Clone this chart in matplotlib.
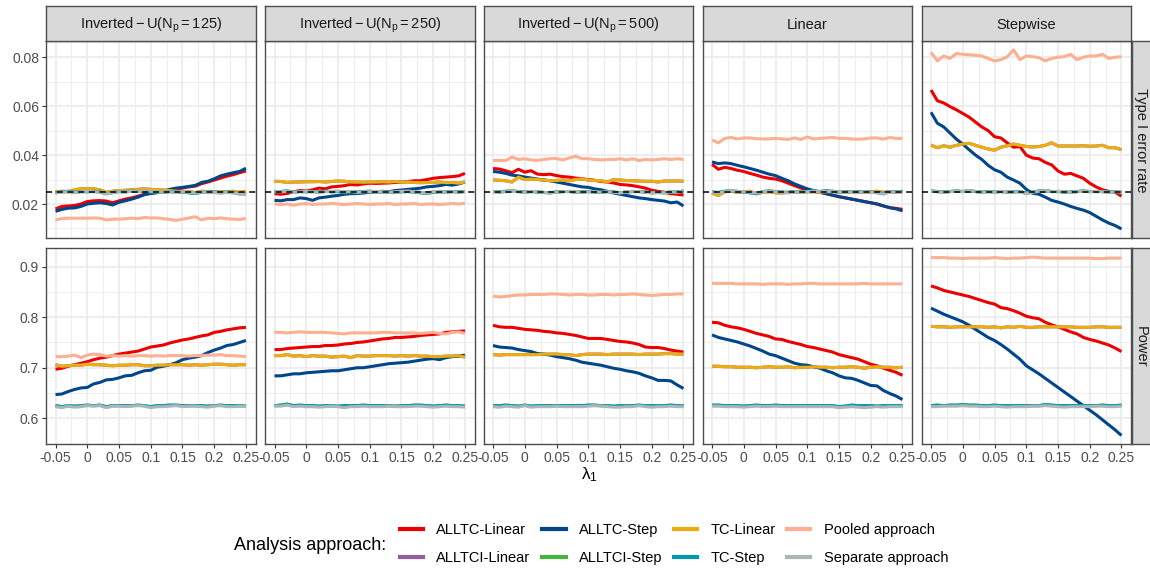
import matplotlib
matplotlib.use('Agg')
import matplotlib.pyplot as plt
from matplotlib.lines import Line2D

plt.rcParams['font.family'] = ['Liberation Sans', 'DejaVu Sans']
plt.rcParams['mathtext.fontset'] = 'custom'
plt.rcParams['mathtext.rm'] = 'Liberation Sans'
plt.rcParams['mathtext.it'] = 'Liberation Sans:italic'

lambda1 = [-0.05, -0.04, -0.03, -0.02, -0.01, 0.0, 0.01, 0.02, 0.03, 0.04,
           0.05, 0.06, 0.07, 0.08, 0.09, 0.10, 0.11, 0.12, 0.13, 0.14,
           0.15, 0.16, 0.17, 0.18, 0.19, 0.20, 0.21, 0.22, 0.23, 0.24, 0.25]

scenarios = ['inv125', 'inv250', 'inv500', 'lin', 'step']
strip_labels = [r'$\mathregular{Inverted-U(N_p=125)}$',
                r'$\mathregular{Inverted-U(N_p=250)}$',
                r'$\mathregular{Inverted-U(N_p=500)}$',
                'Linear', 'Stepwise']
row_labels = ['Type I error rate', 'Power']

approaches = ['ALLTC-Linear', 'ALLTCI-Linear', 'ALLTC-Step', 'ALLTCI-Step',
              'TC-Linear', 'TC-Step', 'Pooled approach', 'Separate approach']
colors = ['#ED0000', '#925E9F', '#00468B', '#42B540',
          '#EEAD0E', '#0099B4', '#FDAF91', '#ADB6B6']

# ---- Type I error rate ----
t1_inv125_alltc_lin = [0.0180, 0.0190, 0.0192, 0.0194, 0.0200, 0.0210, 0.0213, 0.0214, 0.0212, 0.0205,
                       0.0213, 0.0220, 0.0225, 0.0232, 0.0240, 0.0245, 0.0248, 0.0252, 0.0258, 0.0262,
                       0.0265, 0.0270, 0.0273, 0.0283, 0.0290, 0.0298, 0.0306, 0.0314, 0.0320, 0.0328, 0.0335]
t1_inv125_alltc_step = [0.0170, 0.0178, 0.0183, 0.0184, 0.0190, 0.0200, 0.0203, 0.0205, 0.0202, 0.0196,
                        0.0207, 0.0213, 0.0220, 0.0228, 0.0238, 0.0243, 0.0246, 0.0252, 0.0260, 0.0265,
                        0.0268, 0.0272, 0.0276, 0.0288, 0.0293, 0.0303, 0.0315, 0.0322, 0.0328, 0.0333, 0.0346]
t1_inv125_tc_lin = [0.0250, 0.0252, 0.0250, 0.0258, 0.0262, 0.0263, 0.0262, 0.0258, 0.0248, 0.0252,
                    0.0255, 0.0256, 0.0258, 0.0260, 0.0262, 0.0260, 0.0258, 0.0257, 0.0255, 0.0252,
                    0.0250, 0.0250, 0.0247, 0.0252, 0.0250, 0.0248, 0.0250, 0.0250, 0.0252, 0.0248, 0.0252]
t1_inv125_tc_step = [0.0246, 0.0250, 0.0252, 0.0248, 0.0251, 0.0250, 0.0252, 0.0249, 0.0243, 0.0247,
                     0.0251, 0.0250, 0.0253, 0.0251, 0.0253, 0.0250, 0.0249, 0.0247, 0.0251, 0.0248,
                     0.0249, 0.0246, 0.0243, 0.0249, 0.0248, 0.0250, 0.0246, 0.0249, 0.0247, 0.0242, 0.0240]
t1_inv125_pooled = [0.0135, 0.0140, 0.0142, 0.0142, 0.0142, 0.0142, 0.0143, 0.0142, 0.0135, 0.0138,
                    0.0138, 0.0140, 0.0142, 0.0140, 0.0145, 0.0143, 0.0143, 0.0140, 0.0137, 0.0133,
                    0.0138, 0.0143, 0.0148, 0.0135, 0.0142, 0.0140, 0.0143, 0.0140, 0.0138, 0.0137, 0.0140]
t1_inv125_sep = [0.0245, 0.0248, 0.0250, 0.0246, 0.0250, 0.0252, 0.0250, 0.0247, 0.0240, 0.0246,
                 0.0250, 0.0249, 0.0252, 0.0250, 0.0255, 0.0252, 0.0250, 0.0248, 0.0250, 0.0247,
                 0.0250, 0.0248, 0.0245, 0.0250, 0.0246, 0.0248, 0.0244, 0.0248, 0.0245, 0.0240, 0.0238]

t1_inv250_alltc_lin = [0.0242, 0.0240, 0.0243, 0.0250, 0.0255, 0.0253, 0.0258, 0.0265, 0.0262, 0.0270,
                       0.0272, 0.0275, 0.0280, 0.0278, 0.0282, 0.0285, 0.0284, 0.0285, 0.0286, 0.0288,
                       0.0290, 0.0292, 0.0295, 0.0295, 0.0300, 0.0305, 0.0308, 0.0310, 0.0312, 0.0315, 0.0325]
t1_inv250_alltc_step = [0.0215, 0.0213, 0.0218, 0.0218, 0.0225, 0.0222, 0.0215, 0.0225, 0.0228, 0.0232,
                        0.0235, 0.0240, 0.0242, 0.0243, 0.0245, 0.0248, 0.0250, 0.0252, 0.0250, 0.0255,
                        0.0257, 0.0260, 0.0262, 0.0265, 0.0270, 0.0272, 0.0275, 0.0280, 0.0277, 0.0282, 0.0290]
t1_inv250_tc_lin = [0.0293, 0.0292, 0.0288, 0.0290, 0.0290, 0.0291, 0.0291, 0.0292, 0.0290, 0.0292,
                    0.0294, 0.0293, 0.0290, 0.0290, 0.0289, 0.0290, 0.0290, 0.0291, 0.0290, 0.0292,
                    0.0290, 0.0290, 0.0288, 0.0287, 0.0288, 0.0288, 0.0290, 0.0287, 0.0288, 0.0285, 0.0290]
t1_inv250_tc_step = [0.0250, 0.0251, 0.0253, 0.0249, 0.0251, 0.0250, 0.0251, 0.0249, 0.0252, 0.0250,
                     0.0251, 0.0249, 0.0250, 0.0249, 0.0251, 0.0252, 0.0250, 0.0249, 0.0247, 0.0249,
                     0.0250, 0.0251, 0.0249, 0.0246, 0.0244, 0.0248, 0.0250, 0.0249, 0.0251, 0.0249, 0.0251]
t1_inv250_pooled = [0.0200, 0.0198, 0.0200, 0.0195, 0.0200, 0.0202, 0.0198, 0.0200, 0.0200, 0.0202,
                    0.0200, 0.0198, 0.0200, 0.0202, 0.0200, 0.0198, 0.0200, 0.0200, 0.0202, 0.0198,
                    0.0200, 0.0200, 0.0202, 0.0198, 0.0200, 0.0200, 0.0198, 0.0200, 0.0202, 0.0200, 0.0203]
t1_inv250_sep = [0.0252, 0.0250, 0.0252, 0.0248, 0.0250, 0.0252, 0.0250, 0.0248, 0.0250, 0.0252,
                 0.0253, 0.0250, 0.0252, 0.0248, 0.0250, 0.0250, 0.0252, 0.0250, 0.0248, 0.0250,
                 0.0252, 0.0253, 0.0250, 0.0248, 0.0245, 0.0250, 0.0252, 0.0248, 0.0250, 0.0248, 0.0250]

t1_inv500_alltc_lin = [0.0345, 0.0343, 0.0336, 0.0328, 0.0342, 0.0330, 0.0336, 0.0322, 0.0320, 0.0322,
                       0.0316, 0.0312, 0.0310, 0.0306, 0.0303, 0.0300, 0.0297, 0.0292, 0.0290, 0.0286,
                       0.0280, 0.0278, 0.0275, 0.0270, 0.0265, 0.0256, 0.0252, 0.0248, 0.0242, 0.0240, 0.0237]
t1_inv500_alltc_step = [0.0333, 0.0330, 0.0325, 0.0318, 0.0315, 0.0310, 0.0306, 0.0302, 0.0298, 0.0295,
                        0.0290, 0.0285, 0.0280, 0.0275, 0.0270, 0.0268, 0.0262, 0.0258, 0.0252, 0.0245,
                        0.0240, 0.0235, 0.0230, 0.0225, 0.0222, 0.0218, 0.0215, 0.0212, 0.0205, 0.0208, 0.0192]
t1_inv500_tc_lin = [0.0298, 0.0297, 0.0295, 0.0290, 0.0310, 0.0300, 0.0302, 0.0300, 0.0298, 0.0295,
                    0.0296, 0.0298, 0.0295, 0.0300, 0.0302, 0.0298, 0.0296, 0.0295, 0.0290, 0.0300,
                    0.0298, 0.0296, 0.0295, 0.0294, 0.0293, 0.0293, 0.0290, 0.0294, 0.0294, 0.0294, 0.0293]
t1_inv500_tc_step = [0.0251, 0.0249, 0.0252, 0.0253, 0.0251, 0.0249, 0.0251, 0.0249, 0.0247, 0.0246,
                     0.0249, 0.0251, 0.0251, 0.0249, 0.0249, 0.0251, 0.0249, 0.0247, 0.0251, 0.0249,
                     0.0246, 0.0249, 0.0251, 0.0251, 0.0249, 0.0246, 0.0247, 0.0246, 0.0249, 0.0249, 0.0253]
t1_inv500_pooled = [0.0378, 0.0378, 0.0378, 0.0392, 0.0382, 0.0385, 0.0380, 0.0378, 0.0382, 0.0385,
                    0.0386, 0.0380, 0.0388, 0.0395, 0.0385, 0.0385, 0.0382, 0.0380, 0.0382, 0.0382,
                    0.0385, 0.0380, 0.0385, 0.0378, 0.0382, 0.0380, 0.0382, 0.0385, 0.0382, 0.0385, 0.0382]
t1_inv500_sep = [0.0250, 0.0248, 0.0250, 0.0252, 0.0250, 0.0248, 0.0252, 0.0250, 0.0248, 0.0245,
                 0.0248, 0.0250, 0.0252, 0.0250, 0.0248, 0.0250, 0.0250, 0.0248, 0.0250, 0.0248,
                 0.0245, 0.0250, 0.0252, 0.0250, 0.0248, 0.0245, 0.0248, 0.0245, 0.0250, 0.0248, 0.0252]

t1_lin_alltc_lin = [0.0362, 0.0342, 0.0350, 0.0345, 0.0338, 0.0333, 0.0325, 0.0318, 0.0310, 0.0305,
                    0.0302, 0.0295, 0.0285, 0.0275, 0.0265, 0.0258, 0.0252, 0.0248, 0.0242, 0.0236,
                    0.0230, 0.0225, 0.0220, 0.0215, 0.0210, 0.0205, 0.0200, 0.0192, 0.0185, 0.0182, 0.0178]
t1_lin_alltc_step = [0.0372, 0.0365, 0.0368, 0.0365, 0.0358, 0.0352, 0.0345, 0.0338, 0.0330, 0.0322,
                     0.0316, 0.0305, 0.0295, 0.0282, 0.0272, 0.0262, 0.0255, 0.0248, 0.0242, 0.0236,
                     0.0230, 0.0225, 0.0220, 0.0215, 0.0210, 0.0205, 0.0200, 0.0192, 0.0185, 0.0180, 0.0172]
t1_lin_tc_lin = [0.0245, 0.0235, 0.0250, 0.0252, 0.0248, 0.0250, 0.0252, 0.0242, 0.0248, 0.0250,
                 0.0246, 0.0245, 0.0248, 0.0250, 0.0248, 0.0250, 0.0250, 0.0248, 0.0250, 0.0252,
                 0.0250, 0.0248, 0.0250, 0.0250, 0.0248, 0.0250, 0.0252, 0.0248, 0.0250, 0.0250, 0.0250]
t1_lin_tc_step = [0.0249, 0.0247, 0.0252, 0.0254, 0.0251, 0.0249, 0.0246, 0.0242, 0.0251, 0.0253,
                  0.0251, 0.0249, 0.0247, 0.0251, 0.0249, 0.0251, 0.0253, 0.0251, 0.0254, 0.0251,
                  0.0249, 0.0249, 0.0251, 0.0249, 0.0251, 0.0249, 0.0247, 0.0243, 0.0251, 0.0249, 0.0252]
t1_lin_pooled = [0.0462, 0.0450, 0.0468, 0.0472, 0.0466, 0.0470, 0.0470, 0.0467, 0.0466, 0.0466,
                 0.0468, 0.0466, 0.0464, 0.0470, 0.0464, 0.0474, 0.0466, 0.0468, 0.0470, 0.0472,
                 0.0468, 0.0468, 0.0466, 0.0465, 0.0466, 0.0470, 0.0470, 0.0465, 0.0472, 0.0468, 0.0468]
t1_lin_sep = [0.0248, 0.0245, 0.0250, 0.0255, 0.0252, 0.0250, 0.0248, 0.0245, 0.0250, 0.0252,
              0.0250, 0.0248, 0.0245, 0.0250, 0.0248, 0.0250, 0.0252, 0.0250, 0.0252, 0.0250,
              0.0250, 0.0248, 0.0250, 0.0248, 0.0250, 0.0248, 0.0245, 0.0240, 0.0250, 0.0248, 0.0250]

t1_step_alltc_lin = [0.0666, 0.0622, 0.0613, 0.0598, 0.0585, 0.0570, 0.0555, 0.0535, 0.0515, 0.0500,
                     0.0475, 0.0470, 0.0450, 0.0432, 0.0435, 0.0400, 0.0388, 0.0385, 0.0370, 0.0360,
                     0.0335, 0.0322, 0.0325, 0.0315, 0.0305, 0.0285, 0.0270, 0.0258, 0.0252, 0.0248, 0.0232]
t1_step_alltc_step = [0.0575, 0.0530, 0.0515, 0.0490, 0.0465, 0.0445, 0.0422, 0.0400, 0.0382, 0.0358,
                      0.0340, 0.0330, 0.0310, 0.0298, 0.0285, 0.0260, 0.0244, 0.0240, 0.0228, 0.0215,
                      0.0208, 0.0200, 0.0190, 0.0182, 0.0175, 0.0165, 0.0150, 0.0135, 0.0122, 0.0112, 0.0098]
t1_step_tc_lin = [0.0441, 0.0430, 0.0438, 0.0432, 0.0440, 0.0445, 0.0448, 0.0440, 0.0432, 0.0425,
                  0.0420, 0.0432, 0.0438, 0.0445, 0.0440, 0.0435, 0.0433, 0.0435, 0.0440, 0.0450,
                  0.0437, 0.0437, 0.0437, 0.0437, 0.0438, 0.0436, 0.0437, 0.0440, 0.0430, 0.0430, 0.0422]
t1_step_tc_step = [0.0253, 0.0251, 0.0249, 0.0251, 0.0253, 0.0251, 0.0254, 0.0251, 0.0248, 0.0251,
                   0.0249, 0.0251, 0.0249, 0.0249, 0.0251, 0.0244, 0.0249, 0.0253, 0.0254, 0.0251,
                   0.0251, 0.0249, 0.0249, 0.0251, 0.0253, 0.0251, 0.0251, 0.0251, 0.0249, 0.0251, 0.0249]
t1_step_pooled = [0.0820, 0.0785, 0.0805, 0.0795, 0.0815, 0.0812, 0.0810, 0.0808, 0.0805, 0.0795,
                  0.0785, 0.0790, 0.0802, 0.0830, 0.0790, 0.0805, 0.0802, 0.0798, 0.0785, 0.0795,
                  0.0800, 0.0802, 0.0812, 0.0790, 0.0800, 0.0805, 0.0805, 0.0812, 0.0795, 0.0800, 0.0802]
t1_step_sep = [0.0252, 0.0250, 0.0248, 0.0250, 0.0252, 0.0250, 0.0255, 0.0252, 0.0246, 0.0250,
               0.0248, 0.0252, 0.0250, 0.0248, 0.0250, 0.0242, 0.0248, 0.0252, 0.0255, 0.0250,
               0.0252, 0.0250, 0.0248, 0.0250, 0.0252, 0.0250, 0.0252, 0.0250, 0.0248, 0.0250, 0.0250]

# ---- Power ----
pw_inv125_alltc_lin = [0.697, 0.699, 0.703, 0.706, 0.709, 0.712, 0.716, 0.719, 0.721, 0.724,
                       0.727, 0.729, 0.731, 0.733, 0.737, 0.741, 0.743, 0.745, 0.749, 0.752,
                       0.755, 0.757, 0.760, 0.763, 0.765, 0.770, 0.772, 0.775, 0.777, 0.779, 0.780]
pw_inv125_alltc_step = [0.647, 0.648, 0.653, 0.657, 0.660, 0.661, 0.668, 0.671, 0.676, 0.677,
                        0.680, 0.684, 0.685, 0.690, 0.694, 0.695, 0.701, 0.703, 0.706, 0.710,
                        0.716, 0.719, 0.721, 0.724, 0.730, 0.735, 0.739, 0.744, 0.746, 0.750, 0.754]
pw_inv125_tc_lin = [0.706, 0.703, 0.704, 0.705, 0.705, 0.707, 0.706, 0.706, 0.705, 0.704,
                    0.705, 0.705, 0.706, 0.706, 0.704, 0.704, 0.705, 0.705, 0.706, 0.706,
                    0.706, 0.705, 0.706, 0.705, 0.706, 0.707, 0.707, 0.706, 0.705, 0.706, 0.706]
pw_inv125_tc_step = [0.625, 0.623, 0.625, 0.624, 0.625, 0.626, 0.625, 0.626, 0.623, 0.625,
                     0.625, 0.625, 0.625, 0.626, 0.625, 0.623, 0.625, 0.625, 0.626, 0.626,
                     0.625, 0.625, 0.625, 0.625, 0.624, 0.625, 0.626, 0.625, 0.625, 0.625, 0.624]
pw_inv125_pooled = [0.722, 0.722, 0.723, 0.725, 0.720, 0.725, 0.727, 0.726, 0.723, 0.724,
                    0.723, 0.724, 0.723, 0.724, 0.724, 0.723, 0.724, 0.723, 0.724, 0.724,
                    0.724, 0.723, 0.724, 0.724, 0.725, 0.725, 0.726, 0.724, 0.724, 0.723, 0.722]
pw_inv125_sep = [0.623, 0.621, 0.624, 0.622, 0.623, 0.625, 0.624, 0.625, 0.621, 0.624,
                 0.624, 0.623, 0.624, 0.625, 0.624, 0.621, 0.623, 0.623, 0.624, 0.625,
                 0.623, 0.624, 0.624, 0.623, 0.622, 0.624, 0.625, 0.623, 0.623, 0.624, 0.623]

pw_inv250_alltc_lin = [0.736, 0.736, 0.738, 0.739, 0.740, 0.741, 0.742, 0.742, 0.744, 0.744,
                       0.745, 0.747, 0.748, 0.750, 0.751, 0.753, 0.755, 0.757, 0.758, 0.760,
                       0.760, 0.761, 0.762, 0.764, 0.765, 0.766, 0.767, 0.770, 0.771, 0.772, 0.773]
pw_inv250_alltc_step = [0.684, 0.684, 0.686, 0.688, 0.688, 0.690, 0.691, 0.692, 0.693, 0.694,
                        0.694, 0.696, 0.698, 0.700, 0.700, 0.702, 0.704, 0.706, 0.708, 0.709,
                        0.710, 0.711, 0.713, 0.715, 0.717, 0.718, 0.716, 0.720, 0.722, 0.723, 0.725]
pw_inv250_tc_lin = [0.724, 0.724, 0.726, 0.723, 0.724, 0.722, 0.724, 0.723, 0.723, 0.721,
                    0.722, 0.723, 0.720, 0.724, 0.723, 0.723, 0.724, 0.724, 0.724, 0.723,
                    0.724, 0.723, 0.724, 0.723, 0.723, 0.722, 0.722, 0.723, 0.723, 0.724, 0.721]
pw_inv250_tc_step = [0.625, 0.626, 0.628, 0.625, 0.626, 0.625, 0.625, 0.624, 0.625, 0.625,
                     0.624, 0.625, 0.625, 0.625, 0.626, 0.625, 0.625, 0.625, 0.625, 0.624,
                     0.625, 0.625, 0.626, 0.626, 0.625, 0.624, 0.625, 0.626, 0.625, 0.625, 0.624]
pw_inv250_pooled = [0.770, 0.770, 0.769, 0.770, 0.771, 0.770, 0.770, 0.770, 0.770, 0.769,
                    0.768, 0.767, 0.769, 0.769, 0.769, 0.769, 0.769, 0.770, 0.770, 0.769,
                    0.769, 0.769, 0.769, 0.768, 0.769, 0.770, 0.768, 0.767, 0.770, 0.771, 0.768]
pw_inv250_sep = [0.624, 0.624, 0.626, 0.623, 0.624, 0.623, 0.623, 0.622, 0.623, 0.624,
                 0.623, 0.621, 0.623, 0.623, 0.624, 0.623, 0.623, 0.623, 0.624, 0.623,
                 0.623, 0.623, 0.624, 0.624, 0.623, 0.622, 0.623, 0.624, 0.623, 0.623, 0.622]

pw_inv500_alltc_lin = [0.784, 0.781, 0.780, 0.780, 0.778, 0.776, 0.775, 0.774, 0.772, 0.771,
                       0.769, 0.768, 0.766, 0.764, 0.761, 0.758, 0.758, 0.758, 0.756, 0.754,
                       0.752, 0.751, 0.749, 0.746, 0.741, 0.740, 0.740, 0.738, 0.735, 0.733, 0.731]
pw_inv500_alltc_step = [0.744, 0.741, 0.740, 0.739, 0.736, 0.734, 0.732, 0.728, 0.727, 0.725,
                        0.722, 0.720, 0.718, 0.715, 0.711, 0.709, 0.707, 0.705, 0.702, 0.699,
                        0.697, 0.694, 0.692, 0.689, 0.684, 0.680, 0.675, 0.675, 0.674, 0.666, 0.659]
pw_inv500_tc_lin = [0.726, 0.725, 0.726, 0.726, 0.726, 0.726, 0.726, 0.726, 0.727, 0.727,
                    0.727, 0.726, 0.726, 0.724, 0.726, 0.727, 0.727, 0.727, 0.726, 0.727,
                    0.727, 0.727, 0.727, 0.726, 0.727, 0.727, 0.727, 0.728, 0.728, 0.727, 0.727]
pw_inv500_tc_step = [0.625, 0.625, 0.626, 0.625, 0.624, 0.626, 0.624, 0.625, 0.625, 0.625,
                     0.625, 0.625, 0.625, 0.625, 0.625, 0.626, 0.626, 0.625, 0.625, 0.624,
                     0.625, 0.625, 0.625, 0.626, 0.625, 0.625, 0.625, 0.625, 0.626, 0.625, 0.625]
pw_inv500_pooled = [0.842, 0.840, 0.841, 0.843, 0.844, 0.844, 0.845, 0.845, 0.845, 0.846,
                    0.846, 0.845, 0.844, 0.845, 0.845, 0.844, 0.844, 0.845, 0.845, 0.844,
                    0.845, 0.845, 0.846, 0.845, 0.844, 0.843, 0.844, 0.845, 0.845, 0.846, 0.846]
pw_inv500_sep = [0.623, 0.622, 0.624, 0.623, 0.622, 0.625, 0.622, 0.623, 0.623, 0.623,
                 0.624, 0.623, 0.623, 0.623, 0.623, 0.624, 0.625, 0.624, 0.623, 0.622,
                 0.622, 0.623, 0.623, 0.625, 0.623, 0.622, 0.623, 0.623, 0.624, 0.623, 0.623]

pw_lin_alltc_lin = [0.790, 0.789, 0.784, 0.781, 0.779, 0.776, 0.772, 0.768, 0.765, 0.762,
                    0.757, 0.756, 0.752, 0.749, 0.746, 0.742, 0.740, 0.737, 0.734, 0.731,
                    0.726, 0.723, 0.720, 0.717, 0.712, 0.707, 0.704, 0.699, 0.695, 0.691, 0.685]
pw_lin_alltc_step = [0.765, 0.760, 0.757, 0.754, 0.751, 0.747, 0.743, 0.738, 0.733, 0.727,
                     0.724, 0.719, 0.714, 0.709, 0.706, 0.705, 0.702, 0.699, 0.694, 0.690,
                     0.684, 0.680, 0.679, 0.675, 0.670, 0.665, 0.664, 0.655, 0.649, 0.644, 0.637]
pw_lin_tc_lin = [0.703, 0.703, 0.702, 0.702, 0.701, 0.701, 0.701, 0.700, 0.701, 0.702,
                 0.701, 0.701, 0.702, 0.700, 0.701, 0.701, 0.702, 0.701, 0.701, 0.700,
                 0.701, 0.701, 0.702, 0.701, 0.699, 0.701, 0.702, 0.701, 0.701, 0.700, 0.701]
pw_lin_tc_step = [0.626, 0.626, 0.625, 0.625, 0.625, 0.624, 0.625, 0.626, 0.625, 0.625,
                  0.626, 0.625, 0.625, 0.625, 0.625, 0.625, 0.625, 0.625, 0.625, 0.625,
                  0.623, 0.624, 0.626, 0.625, 0.625, 0.625, 0.624, 0.625, 0.625, 0.625, 0.625]
pw_lin_pooled = [0.867, 0.867, 0.867, 0.867, 0.866, 0.866, 0.866, 0.866, 0.865, 0.866,
                 0.866, 0.866, 0.865, 0.866, 0.866, 0.867, 0.867, 0.866, 0.866, 0.866,
                 0.866, 0.866, 0.866, 0.866, 0.867, 0.866, 0.866, 0.866, 0.866, 0.866, 0.866]
pw_lin_sep = [0.624, 0.624, 0.623, 0.623, 0.623, 0.622, 0.623, 0.624, 0.623, 0.623,
              0.624, 0.623, 0.623, 0.623, 0.623, 0.623, 0.623, 0.623, 0.623, 0.623,
              0.621, 0.622, 0.623, 0.622, 0.621, 0.622, 0.623, 0.622, 0.623, 0.623, 0.623]

pw_step_alltc_lin = [0.862, 0.858, 0.853, 0.850, 0.847, 0.844, 0.841, 0.837, 0.833, 0.829,
                     0.826, 0.819, 0.817, 0.813, 0.808, 0.802, 0.799, 0.797, 0.790, 0.785,
                     0.781, 0.776, 0.771, 0.767, 0.760, 0.756, 0.753, 0.749, 0.745, 0.739, 0.732]
pw_step_alltc_step = [0.818, 0.812, 0.806, 0.801, 0.796, 0.791, 0.784, 0.776, 0.768, 0.760,
                      0.754, 0.746, 0.737, 0.727, 0.717, 0.704, 0.696, 0.688, 0.679, 0.670,
                      0.661, 0.652, 0.643, 0.634, 0.625, 0.616, 0.607, 0.597, 0.587, 0.577, 0.566]
pw_step_tc_lin = [0.782, 0.781, 0.781, 0.780, 0.781, 0.781, 0.781, 0.781, 0.781, 0.780,
                  0.781, 0.779, 0.781, 0.780, 0.782, 0.780, 0.780, 0.781, 0.781, 0.781,
                  0.781, 0.781, 0.781, 0.780, 0.780, 0.780, 0.781, 0.781, 0.780, 0.780, 0.780]
pw_step_tc_step = [0.625, 0.626, 0.625, 0.626, 0.626, 0.627, 0.626, 0.626, 0.625, 0.625,
                   0.626, 0.625, 0.625, 0.625, 0.625, 0.625, 0.625, 0.625, 0.627, 0.626,
                   0.625, 0.625, 0.625, 0.625, 0.625, 0.625, 0.625, 0.626, 0.625, 0.625, 0.626]
pw_step_pooled = [0.918, 0.918, 0.918, 0.917, 0.917, 0.916, 0.917, 0.917, 0.917, 0.917,
                  0.918, 0.917, 0.916, 0.917, 0.917, 0.918, 0.919, 0.918, 0.917, 0.917,
                  0.917, 0.917, 0.917, 0.917, 0.917, 0.917, 0.916, 0.916, 0.917, 0.917, 0.917]
pw_step_sep = [0.623, 0.623, 0.624, 0.624, 0.624, 0.625, 0.624, 0.624, 0.623, 0.623,
               0.624, 0.623, 0.622, 0.623, 0.623, 0.623, 0.624, 0.624, 0.625, 0.624,
               0.623, 0.622, 0.623, 0.623, 0.623, 0.623, 0.624, 0.624, 0.623, 0.623, 0.624]

# ALLTCI-Linear lies on top of TC-Linear and ALLTCI-Step on TC-Step in the picture
data = {}
for metric in ['t1', 'pw']:
    for sc in scenarios:
        g = globals()
        tcl = g[f'{metric}_{sc}_tc_lin']
        tcs = g[f'{metric}_{sc}_tc_step']
        data[(metric, sc)] = [g[f'{metric}_{sc}_alltc_lin'], tcl,
                              g[f'{metric}_{sc}_alltc_step'], tcs,
                              tcl, tcs,
                              g[f'{metric}_{sc}_pooled'], g[f'{metric}_{sc}_sep']]

W, H = 1150, 569
fig = plt.figure(figsize=(W / 100, H / 100), dpi=100)

col_left = [46, 265, 483.5, 702.5, 921.5]
col_w = 209.5
row_box = [(41.3, 238.5), (248.3, 444.3)]
ylims = [(0.0059, 0.0865), (0.5485, 0.9364)]
yticks = [[0.02, 0.04, 0.06, 0.08], [0.6, 0.7, 0.8, 0.9]]
yminor = [[0.01, 0.03, 0.05, 0.07], [0.55, 0.65, 0.75, 0.85]]
ylabels = [['0.02', '0.04', '0.06', '0.08'], ['0.6', '0.7', '0.8', '0.9']]
xticks = [-0.05, 0, 0.05, 0.1, 0.15, 0.2, 0.25]
xlabels = ['-0.05', '0', '0.05', '0.1', '0.15', '0.2', '0.25']
xminor = [-0.025, 0.025, 0.075, 0.125, 0.175, 0.225]

border = '#4D4D4D'
txtcol = '#4D4D4D'

def frac(x0, y0, x1, y1):
    return [x0 / W, 1 - y1 / H, (x1 - x0) / W, (y1 - y0) / H]

for r, metric in enumerate(['t1', 'pw']):
    y0, y1 = row_box[r]
    for c, sc in enumerate(scenarios):
        ax = fig.add_axes(frac(col_left[c], y0, col_left[c] + col_w, y1))
        ax.set_xlim(-0.065, 0.265)
        ax.set_ylim(*ylims[r])
        for v in xminor:
            ax.axvline(v, color='#EBEBEB', lw=0.6, zorder=0)
        for v in yminor[r]:
            ax.axhline(v, color='#EBEBEB', lw=0.6, zorder=0)
        for v in xticks:
            ax.axvline(v, color='#EBEBEB', lw=1.2, zorder=0)
        for v in yticks[r]:
            ax.axhline(v, color='#EBEBEB', lw=1.2, zorder=0)
        for vals, col in zip(data[(metric, sc)], colors):
            ax.plot(lambda1, vals, color=col, lw=2.2, solid_capstyle='butt', zorder=2)
        if metric == 't1':
            ax.axhline(0.025, color='black', lw=1.1, ls=(0, (4, 3)), zorder=3)
        for s in ax.spines.values():
            s.set_color(border)
            s.set_linewidth(1.0)
        ax.set_yticks(yticks[r])
        ax.set_xticks(xticks)
        ax.tick_params(colors='#333333', length=3, width=0.8, labelsize=10, labelcolor=txtcol, pad=2)
        if c == 0:
            ax.set_yticklabels(ylabels[r])
        else:
            ax.set_yticklabels([])
            ax.tick_params(axis='y', length=0)
        if r == 1:
            ax.set_xticklabels(xlabels)
        else:
            ax.set_xticklabels([])
            ax.tick_params(axis='x', length=0)

        if r == 0:
            sax = fig.add_axes(frac(col_left[c], 5.7, col_left[c] + col_w, 41.3))
            sax.set_facecolor('#D9D9D9')
            sax.set_xticks([])
            sax.set_yticks([])
            for s in sax.spines.values():
                s.set_color(border)
                s.set_linewidth(1.0)
            sax.text(0.5, 0.45, strip_labels[c], ha='center', va='center',
                     fontsize=10.5, color='#1A1A1A', transform=sax.transAxes)

    rax = fig.add_axes(frac(1131.5, y0, 1152, y1))
    rax.set_facecolor('#D9D9D9')
    rax.set_xticks([])
    rax.set_yticks([])
    for s in rax.spines.values():
        s.set_color(border)
        s.set_linewidth(1.0)
    rax.text(0.45, 0.5, row_labels[r], rotation=270, ha='center', va='center',
             fontsize=10.5, color='#1A1A1A', transform=rax.transAxes)

fig.text(590 / W, 1 - 475 / H, r'$\mathregular{\lambda_1}$', ha='center', va='center', fontsize=12.5)

handles = [Line2D([], [], color=col, lw=3) for col in colors]
fig.text(234 / W, 1 - 545 / H, 'Analysis approach:', ha='left', va='center', fontsize=13)
fig.legend(handles, approaches, ncol=4, loc='center left',
           bbox_to_anchor=(400 / W, 1 - 544 / H), frameon=False, fontsize=10.5,
           handlelength=1.6, handletextpad=0.9, columnspacing=0.8, labelspacing=0.95,
           borderpad=0, borderaxespad=0)

fig.savefig('out.png', dpi=100)
